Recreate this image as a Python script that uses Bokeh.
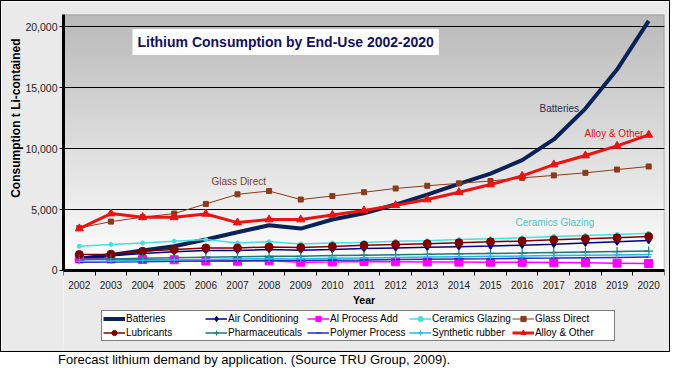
import numpy as np
from bokeh.plotting import figure
from bokeh.models import FixedTicker, NumeralTickFormatter, Label, Div, Range1d, BoxAnnotation, Title
from bokeh.layouts import column
from bokeh.embed import file_html
from bokeh.resources import INLINE

years = list(range(2002, 2021))
batteries = [950, 1280, 1640, 1990, 2540, 3140, 3710, 3440, 4180, 4700, 5410, 6230, 7100, 7950, 9050, 10750, 13280, 16480, 20480]
air_conditioning = [1100, 1200, 1400, 1530, 1640, 1640, 1720, 1670, 1720, 1800, 1850, 1900, 1950, 2000, 2080, 2150, 2250, 2350, 2460]
al_process_add = [950, 950, 900, 880, 780, 760, 800, 680, 700, 740, 720, 700, 690, 680, 670, 650, 630, 600, 570]
ceramics_glazing = [1990, 2130, 2260, 2400, 2540, 2260, 2350, 2180, 2260, 2300, 2400, 2450, 2540, 2600, 2680, 2790, 2880, 2960, 3050]
glass_direct = [3490, 4010, 4370, 4670, 5460, 6250, 6520, 5820, 6110, 6420, 6730, 6950, 7150, 7340, 7600, 7800, 8010, 8280, 8530]
lubricants = [1310, 1340, 1580, 1720, 1850, 1850, 1930, 1880, 1960, 2070, 2130, 2200, 2270, 2350, 2420, 2520, 2600, 2680, 2780]
pharmaceuticals = [900, 950, 1000, 1050, 1090, 1130, 1170, 1170, 1220, 1260, 1300, 1330, 1370, 1400, 1430, 1470, 1510, 1550, 1590]
polymer_process = [680, 700, 720, 750, 780, 800, 830, 820, 850, 870, 900, 920, 950, 970, 1000, 1020, 1050, 1070, 1100]
synthetic_rubber = [750, 780, 820, 870, 910, 940, 970, 950, 1000, 1030, 1070, 1100, 1130, 1160, 1190, 1220, 1250, 1280, 1310]
alloy_other = [3440, 4670, 4370, 4360, 4640, 3930, 4180, 4180, 4560, 4920, 5350, 5820, 6420, 7050, 7760, 8690, 9430, 10220, 11120]

y_ticks = [0, 5000, 10000, 15000, 20000]
Y_TOP = 21000
FONT = "Liberation Sans"

# the frame runs below y=0 so that the x axis (fixed at 0) and the legend sit inside it
p = figure(width=670, height=352, output_backend="svg", toolbar_location=None,
           x_range=Range1d(2001.5, 2020.5), y_range=Range1d(-6727, Y_TOP),
           min_border_left=62, min_border_right=7, min_border_top=13, min_border_bottom=1,
           border_fill_color="#EAEAEA", background_fill_color="#EAEAEA",
           outline_line_color=None)
p.styles = {"border": "1px solid black"}

# plot-area gradient (grey at top to white at bottom)
n = 64
shade = np.linspace(255, 186, n)
img = np.empty((n, 1), dtype=np.uint32)
view = img.view(dtype=np.uint8).reshape((n, 1, 4))
view[:, :, 0] = shade[:, None]
view[:, :, 1] = shade[:, None]
view[:, :, 2] = shade[:, None]
view[:, :, 3] = 255
p.image_rgba(image=[img], x=2001.5, y=0, dw=19, dh=Y_TOP, level="image")
p.add_layout(BoxAnnotation(left=2001.5, right=2020.5, bottom=0, top=Y_TOP,
                           fill_alpha=0, line_color="black", line_width=1.5))

# grid
p.xgrid.grid_line_color = None
p.ygrid.grid_line_color = "black"
p.ygrid.grid_line_width = 1
p.ygrid.ticker = FixedTicker(ticks=y_ticks)

# axes
p.yaxis.ticker = FixedTicker(ticks=y_ticks)
p.yaxis.formatter = NumeralTickFormatter(format="0,0")
p.yaxis.bounds = (0, Y_TOP)
p.xaxis.ticker = FixedTicker(ticks=years, minor_ticks=[y - 0.5 for y in years] + [2020.5])
p.xaxis.fixed_location = 0
for ax in (p.xaxis[0], p.yaxis[0]):
    ax.axis_line_width = 3
    ax.axis_line_color = "black"
    ax.major_label_text_font = FONT
    ax.major_label_text_color = "#222222"
    ax.axis_label_text_font = FONT
    ax.axis_label_text_font_style = "bold"
    ax.axis_label_text_color = "black"
p.yaxis.major_label_text_font_size = "10.5px"
p.xaxis.major_label_text_font_size = "10px"
p.yaxis.major_tick_out = 4
p.yaxis.major_tick_in = 0
p.yaxis.minor_tick_line_color = None
p.yaxis.major_label_standoff = 2
p.xaxis.major_tick_line_color = None
p.xaxis.minor_tick_out = 5
p.xaxis.minor_tick_in = 0
p.xaxis.minor_tick_line_color = "black"
p.xaxis.axis_label = "Year"
p.xaxis.axis_label_text_font_size = "10.5px"
p.xaxis.axis_label_standoff = 1
p.xaxis.major_label_standoff = 5

# y axis title, placed towards the top like the original
p.add_layout(Title(text="Consumption t Li-contained", align="right", offset=24,
                   text_font=FONT, text_font_size="12px", text_font_style="bold",
                   text_color="black", standoff=0), "left")

# series
p.line(years, batteries, line_color="#0B2256", line_width=4, legend_label="Batteries")

p.line(years, air_conditioning, line_color="#000080", line_width=1.5, legend_label="Air Conditioning")
p.scatter(years, air_conditioning, marker="diamond", size=7, color="#000080", legend_label="Air Conditioning")

p.line(years, al_process_add, line_color="#FF00FF", line_width=1.5, legend_label="Al Process Add")
p.scatter(years, al_process_add, marker="square", size=8, color="#FF00FF", legend_label="Al Process Add")

p.line(years, ceramics_glazing, line_color="#44E0E0", line_width=1.5, legend_label="Ceramics Glazing")
p.scatter(years, ceramics_glazing, marker="circle", size=4, color="#44E0E0", legend_label="Ceramics Glazing")

p.line(years, glass_direct, line_color="#8B3A1A", line_width=1, legend_label="Glass Direct")
p.scatter(years, glass_direct, marker="square", size=5, color="#8B3A1A", legend_label="Glass Direct")

p.line(years, lubricants, line_color="#800000", line_width=1.5, legend_label="Lubricants")
p.scatter(years, lubricants, marker="circle", size=8, color="#800000", legend_label="Lubricants")

p.line(years, pharmaceuticals, line_color="#1A7A74", line_width=1.5, legend_label="Pharmaceuticals")
p.scatter(years, pharmaceuticals, marker="cross", size=9, line_color="#1A7A74", line_width=1.2, legend_label="Pharmaceuticals")

p.line(years, polymer_process, line_color="#2A2AC0", line_width=1.5, legend_label="Polymer Process")
p.scatter(years, polymer_process, marker="dash", size=5, line_color="#2A2AC0", legend_label="Polymer Process")

p.line(years, synthetic_rubber, line_color="#22B8E8", line_width=1.5, legend_label="Synthetic rubber")
p.scatter(years, synthetic_rubber, marker="cross", size=6, line_color="#22B8E8", legend_label="Synthetic rubber")

p.line(years, alloy_other, line_color="#EE1111", line_width=3, legend_label="Alloy & Other")
p.scatter(years, alloy_other, marker="triangle", size=8, color="#EE1111", legend_label="Alloy & Other")

# legend
leg = p.legend[0]
leg.orientation = "horizontal"
leg.ncols = 5
leg.location = (38, 11)
leg.label_text_font = FONT
leg.label_text_font_size = "10px"
leg.label_text_color = "black"
leg.label_height = 13
leg.glyph_height = 13
leg.glyph_width = 22
leg.label_width = 78
leg.label_standoff = 1
leg.spacing = 1
leg.padding = 1
leg.margin = 0
leg.border_line_color = "black"
leg.border_line_width = 1
leg.background_fill_color = "white"
leg.background_fill_alpha = 1

# title box
p.add_layout(Label(x=2003.68, y=18744, text="Lithium Consumption by End-Use 2002-2020",
                   text_font=FONT, text_font_size="14px", text_font_style="bold",
                   text_color="#0F0F66", text_baseline="middle",
                   background_fill_color="white", padding=5))

# series annotations
p.add_layout(Label(x=2016.55, y=13300, text="Batteries", text_font=FONT, text_font_size="10px",
                   text_color="#1F2D55", text_baseline="middle"))
p.add_layout(Label(x=2017.97, y=11250, text="Alloy & Other", text_font=FONT, text_font_size="10px",
                   text_color="#E01010", text_baseline="middle"))
p.add_layout(Label(x=2006.18, y=7340, text="Glass Direct", text_font=FONT, text_font_size="10px",
                   text_color="#7A3F2A", text_baseline="middle"))
p.add_layout(Label(x=2015.79, y=3900, text="Ceramics Glazing", text_font=FONT, text_font_size="10px",
                   text_color="#55C4C4", text_baseline="middle"))

caption = Div(text="Forecast lithium demand by application. (Source TRU Group, 2009).",
              width=670, height=15, margin=(0, 0, 0, 0),
              styles={"font-family": "Liberation Sans, Arial, sans-serif", "font-size": "13px",
                      "padding-left": "58px", "line-height": "15px", "color": "black"})

layout = column(p, caption, spacing=0)
open("out.html", "w").write(file_html(layout, INLINE))
